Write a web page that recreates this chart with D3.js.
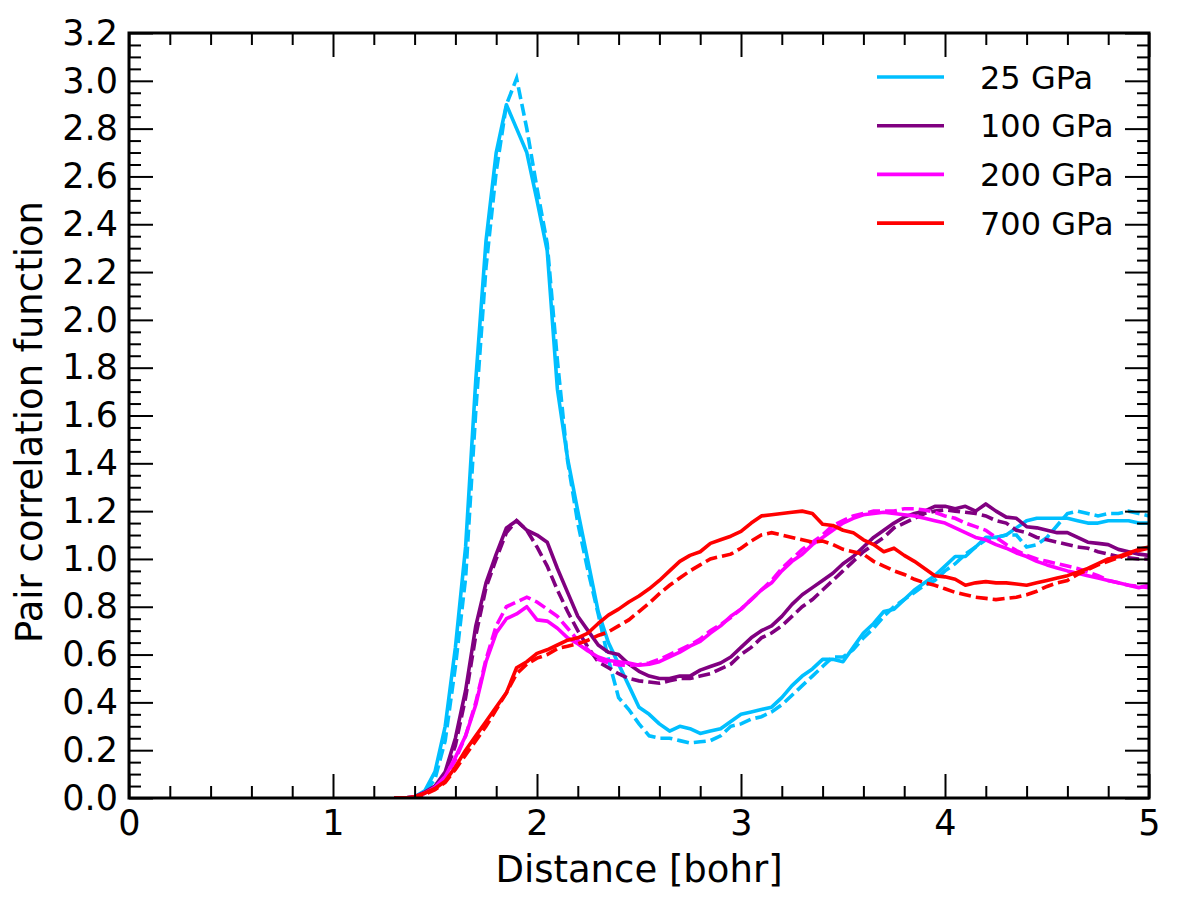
<!DOCTYPE html>
<html>
<head>
<meta charset="utf-8">
<script src="https://cdn.jsdelivr.net/npm/d3@7"></script>
<style>
  body { margin: 0; background: #fff; }
  text { font-family: "DejaVu Sans", sans-serif; fill: #000; }
</style>
</head>
<body>
<div id="chart"></div>
<script>
//Data///////////////////////////////////////////////////////////////////////////////////////////

// distance grid in bohr, 1.30 ... 5.00 in steps of 0.05
var distance = d3.range(130, 501, 5).map(function(v) { return v / 100; });

// one value per grid point
var g25 = [0, 0, 0.005, 0.03, 0.11, 0.30, 0.63, 1.05, 1.75, 2.33, 2.70, 2.90, 2.80, 2.70, 2.50, 2.29, 1.71, 1.42, 1.20, 0.99,
  0.78, 0.65, 0.56, 0.47, 0.38, 0.35, 0.31, 0.28, 0.30, 0.29, 0.27, 0.28, 0.29, 0.32, 0.35, 0.36, 0.37, 0.38, 0.42, 0.47,
  0.51, 0.54, 0.58, 0.58, 0.57, 0.63, 0.69, 0.73, 0.78, 0.79, 0.83, 0.87, 0.90, 0.93, 0.97, 1.01, 1.01, 1.05, 1.09, 1.09,
  1.10, 1.13, 1.16, 1.17, 1.17, 1.17, 1.17, 1.16, 1.15, 1.15, 1.16, 1.16, 1.16, 1.15, 1.15];
var g25dash = [0, 0, 0.003, 0.02, 0.08, 0.24, 0.55, 0.92, 1.62, 2.22, 2.62, 2.90, 3.01, 2.80, 2.55, 2.32, 1.83, 1.41, 1.15, 0.95,
  0.77, 0.58, 0.42, 0.37, 0.31, 0.26, 0.25, 0.25, 0.24, 0.23, 0.235, 0.24, 0.26, 0.30, 0.31, 0.33, 0.34, 0.36, 0.39, 0.43,
  0.47, 0.51, 0.55, 0.59, 0.59, 0.62, 0.67, 0.71, 0.76, 0.80, 0.83, 0.86, 0.89, 0.91, 0.95, 0.98, 1.02, 1.05, 1.08, 1.09,
  1.10, 1.10, 1.05, 1.06, 1.09, 1.14, 1.19, 1.20, 1.19, 1.18, 1.19, 1.19, 1.20, 1.19, 1.18];

var g100 = [0, 0, 0.005, 0.025, 0.05, 0.11, 0.25, 0.45, 0.72, 0.90, 1.02, 1.13, 1.16, 1.12, 1.10, 1.07, 0.96, 0.86, 0.76, 0.70,
  0.64, 0.61, 0.60, 0.56, 0.53, 0.51, 0.50, 0.50, 0.51, 0.51, 0.535, 0.55, 0.565, 0.59, 0.63, 0.67, 0.70, 0.72, 0.76, 0.81,
  0.85, 0.88, 0.91, 0.94, 0.98, 1.01, 1.05, 1.09, 1.12, 1.15, 1.175, 1.19, 1.20, 1.22, 1.22, 1.21, 1.22, 1.20, 1.23, 1.20,
  1.175, 1.17, 1.135, 1.13, 1.12, 1.11, 1.11, 1.09, 1.07, 1.065, 1.06, 1.04, 1.03, 1.02, 1.015];
var g100dash = [0, 0, 0.004, 0.02, 0.045, 0.10, 0.22, 0.42, 0.68, 0.88, 1.00, 1.11, 1.16, 1.12, 1.05, 0.97, 0.87, 0.78, 0.70, 0.63,
  0.57, 0.545, 0.52, 0.50, 0.49, 0.485, 0.48, 0.49, 0.50, 0.50, 0.51, 0.52, 0.54, 0.56, 0.60, 0.63, 0.67, 0.69, 0.72, 0.76,
  0.80, 0.83, 0.87, 0.91, 0.95, 0.99, 1.03, 1.06, 1.09, 1.13, 1.15, 1.17, 1.19, 1.20, 1.205, 1.20, 1.195, 1.19, 1.18, 1.16,
  1.15, 1.12, 1.11, 1.09, 1.08, 1.07, 1.06, 1.05, 1.045, 1.03, 1.02, 1.01, 1.005, 1.00, 1.00];

var g200 = [0, 0, 0.004, 0.02, 0.045, 0.09, 0.17, 0.26, 0.39, 0.57, 0.69, 0.75, 0.77, 0.80, 0.745, 0.74, 0.71, 0.67, 0.645, 0.615,
  0.59, 0.575, 0.57, 0.565, 0.555, 0.56, 0.57, 0.59, 0.61, 0.635, 0.655, 0.69, 0.72, 0.76, 0.79, 0.83, 0.87, 0.90, 0.95, 0.99,
  1.02, 1.06, 1.09, 1.12, 1.15, 1.17, 1.185, 1.19, 1.195, 1.19, 1.185, 1.18, 1.17, 1.16, 1.15, 1.13, 1.11, 1.09, 1.08, 1.06,
  1.045, 1.025, 1.01, 0.99, 0.975, 0.962, 0.95, 0.94, 0.93, 0.92, 0.91, 0.90, 0.89, 0.88, 0.89];
var g200dash = [0, 0, 0.003, 0.015, 0.04, 0.08, 0.16, 0.26, 0.40, 0.58, 0.72, 0.80, 0.82, 0.84, 0.82, 0.79, 0.76, 0.71, 0.66, 0.62,
  0.58, 0.565, 0.557, 0.555, 0.558, 0.565, 0.58, 0.60, 0.62, 0.64, 0.665, 0.70, 0.725, 0.755, 0.79, 0.83, 0.87, 0.91, 0.96, 1.00,
  1.04, 1.07, 1.10, 1.14, 1.16, 1.18, 1.19, 1.20, 1.20, 1.20, 1.21, 1.21, 1.205, 1.195, 1.18, 1.17, 1.15, 1.135, 1.12, 1.09,
  1.06, 1.035, 1.015, 1.00, 0.99, 0.98, 0.97, 0.96, 0.945, 0.93, 0.91, 0.90, 0.89, 0.885, 0.88];

var g700 = [0, 0, 0.005, 0.02, 0.04, 0.07, 0.13, 0.20, 0.26, 0.32, 0.38, 0.44, 0.545, 0.57, 0.605, 0.62, 0.64, 0.66, 0.67, 0.69,
  0.73, 0.765, 0.79, 0.82, 0.845, 0.875, 0.91, 0.95, 0.99, 1.015, 1.03, 1.065, 1.08, 1.095, 1.115, 1.15, 1.18, 1.185, 1.19, 1.195,
  1.20, 1.19, 1.145, 1.14, 1.12, 1.11, 1.08, 1.06, 1.03, 1.045, 1.015, 0.99, 0.96, 0.93, 0.925, 0.915, 0.89, 0.90, 0.905, 0.90,
  0.90, 0.895, 0.89, 0.90, 0.91, 0.92, 0.93, 0.945, 0.96, 0.98, 1.00, 1.01, 1.025, 1.04, 1.05];
var g700dash = [0, 0, 0.003, 0.015, 0.035, 0.065, 0.12, 0.18, 0.24, 0.30, 0.37, 0.44, 0.52, 0.56, 0.585, 0.60, 0.625, 0.635, 0.645, 0.66,
  0.68, 0.695, 0.72, 0.745, 0.78, 0.815, 0.855, 0.89, 0.92, 0.95, 0.975, 1.00, 1.01, 1.02, 1.045, 1.075, 1.10, 1.11, 1.10, 1.09,
  1.08, 1.07, 1.075, 1.06, 1.04, 1.03, 1.02, 0.99, 0.97, 0.95, 0.935, 0.915, 0.90, 0.89, 0.875, 0.86, 0.85, 0.84, 0.835, 0.83,
  0.835, 0.84, 0.85, 0.865, 0.885, 0.90, 0.91, 0.935, 0.955, 0.975, 0.99, 1.005, 1.02, 1.035, 1.045];

var pressures = ["25 GPa", "100 GPa", "200 GPa", "700 GPa"];
var colors = ["#00bfff", "#800080", "#ff00ff", "#ff0000"];
var solidSeries = [g25, g100, g200, g700];
var dashedSeries = [g25dash, g100dash, g200dash, g700dash];

var xTicks = [0, 1, 2, 3, 4, 5];
var yTicks = d3.range(0, 33, 2).map(function(v) { return v / 10; });

//Graph & dimensions//////////////////////////////////////////////////////////////////////////////

var margin = {top: 33, right: 28, bottom: 107, left: 129},
    width = 1177 - margin.left - margin.right,
    height = 905 - margin.top - margin.bottom;

var svg = d3.select("#chart")
  .append("svg")
    .attr("width", 1177)
    .attr("height", 905)
  .append("g")
    .attr("transform", "translate(" + margin.left + "," + margin.top + ")");

var x = d3.scaleLinear().domain([0, 5]).range([0, width]);
var y = d3.scaleLinear().domain([0, 3.2]).range([height, 0]);

svg.append("clipPath").attr("id", "plot-clip")
  .append("rect").attr("width", width).attr("height", height);

//Lines///////////////////////////////////////////////////////////////////////////////////////////

var line = d3.line()
  .x(function(d) { return x(d[0]); })
  .y(function(d) { return y(d[1]); });

var lines = svg.append("g").attr("clip-path", "url(#plot-clip)");

pressures.forEach(function(p, i) {
  lines.append("path")
    .datum(d3.zip(distance, dashedSeries[i]))
    .attr("fill", "none")
    .attr("stroke", colors[i])
    .attr("stroke-width", 3.6)
    .attr("stroke-dasharray", "12,5")
    .attr("d", line);
  lines.append("path")
    .datum(d3.zip(distance, solidSeries[i]))
    .attr("fill", "none")
    .attr("stroke", colors[i])
    .attr("stroke-width", 3.6)
    .attr("stroke-linejoin", "round")
    .attr("d", line);
});

//Axes (ticks inward on all four sides)///////////////////////////////////////////////////////////

var xMinor = d3.range(0, 26).map(function(v) { return v / 5; }).filter(function(v) { return v % 1 !== 0; });
var yMinor = d3.range(0, 65).map(function(v) { return v / 20; }).filter(function(v, i) { return i % 4 !== 0; });

function styleAxis(g) {
  g.select(".domain").remove();
  g.selectAll(".tick line").attr("stroke", "#000").attr("stroke-width", 2);
  g.selectAll(".tick text").style("font-family", "DejaVu Sans, sans-serif").style("font-size", "35px");
}

svg.append("g").attr("transform", "translate(0," + height + ")")
  .call(d3.axisBottom(x).tickValues(xTicks).tickFormat(d3.format("d")).tickSizeInner(-24).tickSizeOuter(0).tickPadding(12))
  .call(styleAxis);
svg.append("g").attr("transform", "translate(0," + height + ")")
  .call(d3.axisBottom(x).tickValues(xMinor).tickFormat("").tickSizeInner(-12).tickSizeOuter(0))
  .call(styleAxis);
svg.append("g")
  .call(d3.axisTop(x).tickValues(xTicks).tickFormat("").tickSizeInner(-24).tickSizeOuter(0))
  .call(styleAxis);
svg.append("g")
  .call(d3.axisTop(x).tickValues(xMinor).tickFormat("").tickSizeInner(-12).tickSizeOuter(0))
  .call(styleAxis);

svg.append("g")
  .call(d3.axisLeft(y).tickValues(yTicks).tickFormat(d3.format(".1f")).tickSizeInner(-24).tickSizeOuter(0).tickPadding(11))
  .call(styleAxis);
svg.append("g")
  .call(d3.axisLeft(y).tickValues(yMinor).tickFormat("").tickSizeInner(-12).tickSizeOuter(0))
  .call(styleAxis);
svg.append("g").attr("transform", "translate(" + width + ",0)")
  .call(d3.axisRight(y).tickValues(yTicks).tickFormat("").tickSizeInner(-24).tickSizeOuter(0))
  .call(styleAxis);
svg.append("g").attr("transform", "translate(" + width + ",0)")
  .call(d3.axisRight(y).tickValues(yMinor).tickFormat("").tickSizeInner(-12).tickSizeOuter(0))
  .call(styleAxis);

// frame
svg.append("rect")
  .attr("width", width)
  .attr("height", height)
  .attr("fill", "none")
  .attr("stroke", "#000")
  .attr("stroke-width", 3);

// axis titles
svg.append("text")
  .attr("x", width / 2)
  .attr("y", height + 84)
  .style("text-anchor", "middle")
  .style("font-size", "37px")
  .text("Distance [bohr]");

svg.append("text")
  .attr("transform", "rotate(-90)")
  .attr("x", -389)
  .attr("y", -87)
  .style("text-anchor", "middle")
  .style("font-size", "37px")
  .text("Pair correlation function");

//Legend//////////////////////////////////////////////////////////////////////////////////////////

var legend = svg.selectAll(".legend")
  .data(pressures)
  .enter().append("g")
  .attr("class", "legend")
  .attr("transform", function(d, i) { return "translate(748," + (44 + i * 48.7) + ")"; });

legend.append("line")
  .attr("x1", 0)
  .attr("x2", 67)
  .attr("stroke", function(d, i) { return colors[i]; })
  .attr("stroke-width", 3.6);

legend.append("text")
  .attr("x", 103)
  .attr("dy", "0.36em")
  .style("font-size", "32px")
  .text(function(d) { return d; });
</script>
</body>
</html>
